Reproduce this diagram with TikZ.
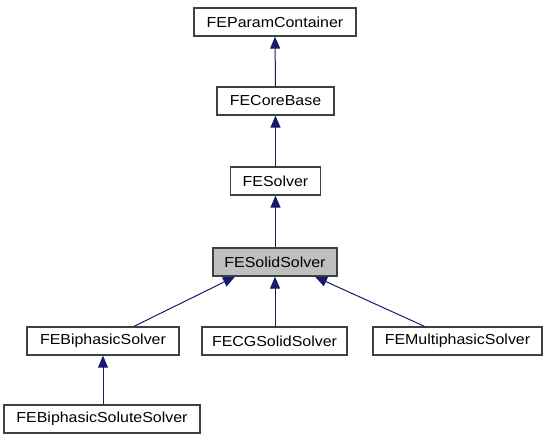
\documentclass[tikz,border=0pt]{standalone}
\usepackage{fontspec}
\setmainfont{Liberation Sans}[FakeStretch=1.1]
\usetikzlibrary{arrows.meta}
\definecolor{EdgeBlue}{RGB}{25, 25, 112}
\definecolor{BoxGray}{RGB}{64, 64, 64}
\definecolor{FocusGray}{RGB}{191, 191, 191}

\begin{document}
\begin{tikzpicture}[x=1pt, y=-1pt,
    cls/.style={draw=BoxGray, line width=1.3pt, fill=white, minimum height=28pt,
                inner sep=0pt, font=\fontsize{14.5}{16}\selectfont},
    focus/.style={cls, fill=FocusGray},
    edge/.style={EdgeBlue, line width=1pt, -{Triangle[length=12pt, width=10pt]}}]
    \useasboundingbox (0,0) rectangle (548,443);

    % Classes
    \node[cls, minimum width=162pt] (pc) at (275,22) {FEParamContainer};
    \node[cls, minimum width=117pt] (cb) at (275.5,101) {FECoreBase};
    \node[cls, minimum width=90pt] (sv) at (275.5,181) {FESolver};
    \node[focus, minimum width=124pt] (ss) at (275,262) {FESolidSolver};
    \node[cls, minimum width=152pt] (bs) at (103,341) {FEBiphasicSolver};
    \node[cls, minimum width=145pt] (cg) at (274.5,341) {FECGSolidSolver};
    \node[cls, minimum width=169pt] (mp) at (457.5,341) {FEMultiphasicSolver};
    \node[cls, minimum width=196pt] (bss) at (102,419) {FEBiphasicSoluteSolver};

    % Inheritance
    \draw[edge] (cb.north) -- (pc.south);
    \draw[edge] (sv.north -| cb.north) -- (cb.south);
    \draw[edge] (ss.north -| cb.north) -- (sv.south -| cb.south);
    \draw[edge] ([xshift=31pt]bs.north) -- ([xshift=-40pt]ss.south);
    \draw[edge] (cg.north -| ss.south) -- (ss.south);
    \draw[edge] ([xshift=-33pt]mp.north) -- ([xshift=40pt]ss.south);
    \draw[edge] (bss.north -| bs.south) -- (bs.south);
\end{tikzpicture}
\end{document}
